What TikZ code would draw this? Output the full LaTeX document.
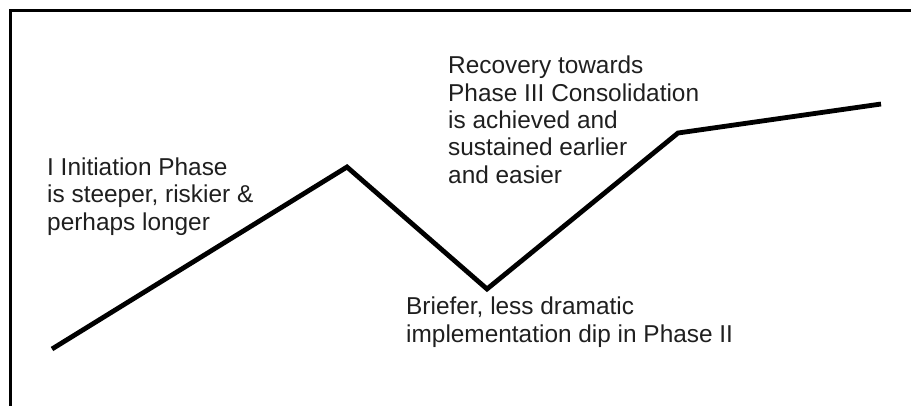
\documentclass[tikz,border=0pt]{standalone}
\usepackage{fontspec}
\setmainfont{Liberation Sans}
\begin{document}
\begin{tikzpicture}[x=1pt,y=-1pt,
  frame/.style={line width=3pt,line cap=rect},
  curve/.style={line width=4.8pt,line join=miter,line cap=butt},
  note/.style={anchor=base west,inner sep=0pt,align=left,text=black!88,
    font=\fontsize{24.4pt}{27.3pt}\selectfont}]
  \useasboundingbox (0,0) rectangle (911,405);
  % frame: top and left edges
  \coordinate (ftl) at (10.5,10.5);
  \coordinate (ftr) at (915,10.5);
  \coordinate (fbl) at (10.5,410);
  \draw[frame] (fbl) -- (ftl) -- (ftr);
  % phase curve
  \coordinate (p0) at (52,349);
  \coordinate (p1) at (347,167);
  \coordinate (p2) at (487,289);
  \coordinate (p3) at (678,133);
  \coordinate (p4) at (881,104);
  \draw[curve] (p0) -- (p1) -- (p2) -- (p3) -- (p4);
  % labels (anchored at the baseline of their last line)
  \node[note] (init) at (47,230) {I Initiation Phase\\is steeper, riskier \&\\perhaps longer};
  \node[note] (recov) at (448,183) {Recovery towards\\Phase III Consolidation\\is achieved and\\sustained earlier\\and easier};
  \node[note] (dip) at (406,342) {Briefer, less dramatic\\implementation dip in Phase II};
\end{tikzpicture}
\end{document}
